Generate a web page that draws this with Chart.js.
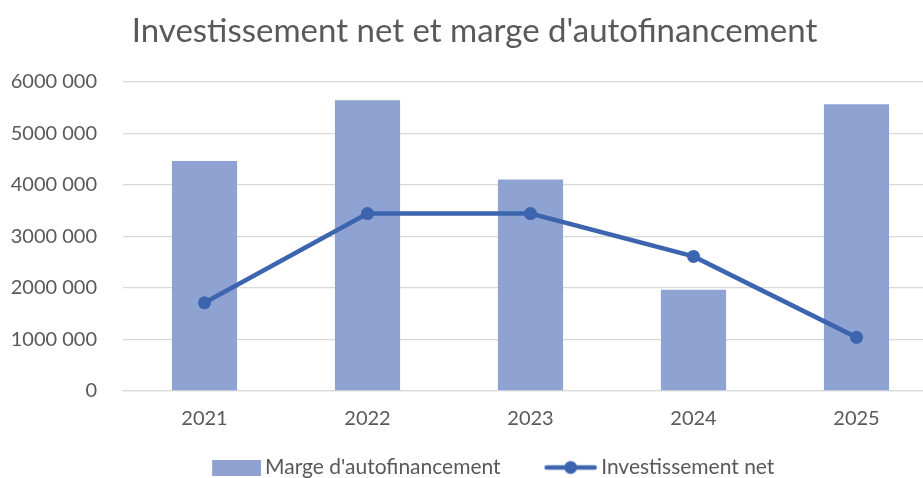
<!DOCTYPE html>
<html>
<head>
<meta charset="utf-8">
<script src="https://cdn.jsdelivr.net/npm/chart.js@4.4.1/dist/chart.umd.min.js"></script>
<style>
  html, body { margin: 0; padding: 0; background: #fff; overflow: hidden; }
  #wrap { width: 923px; height: 478px; overflow: hidden; position: relative; }
  #box { width: 960px; height: 492px; position: absolute; left: 0; top: 0; }
</style>
</head>
<body>
<div id="wrap"><div id="box"><canvas id="chart"></canvas></div></div>
<script>
const years = ["2021", "2022", "2023", "2024", "2025"];
const margeAutofinancement = [4460000, 5640000, 4100000, 1965000, 5560000];
const investissementNet = [1710000, 3440000, 3440000, 2610000, 1040000];
const yTicks = [0, 1000000, 2000000, 3000000, 4000000, 5000000, 6000000];

const barColor = "#8fa3d3";
const lineColor = "#3d64ae";
const textColor = "#595959";

// legend swatches drawn as little canvases (wider than the box so they sit close to the text)
function makeSwatch(w, h, draw) {
  const c = document.createElement("canvas");
  c.width = w;
  c.height = h;
  draw(c.getContext("2d"));
  return c;
}
const barSwatch = makeSwatch(93, 16, (ctx) => {
  ctx.fillStyle = barColor;
  ctx.fillRect(44, 0, 49, 16);
});
const lineSwatch = makeSwatch(93, 16, (ctx) => {
  ctx.strokeStyle = lineColor;
  ctx.lineWidth = 4.5;
  ctx.lineCap = "round";
  ctx.beginPath();
  ctx.moveTo(42.5, 8);
  ctx.lineTo(90.5, 8);
  ctx.stroke();
  ctx.fillStyle = lineColor;
  ctx.beginPath();
  ctx.arc(66.5, 8, 6.5, 0, Math.PI * 2);
  ctx.fill();
});

function formatTick(v) {
  if (v === 0) return "0";
  const head = Math.floor(v / 1000);
  const tail = String(v % 1000).padStart(3, "0");
  return head + " " + tail;
}

new Chart(document.getElementById("chart"), {
  data: {
    labels: years,
    datasets: [
      {
        type: "bar",
        label: "Marge d'autofinancement",
        data: margeAutofinancement,
        backgroundColor: barColor,
        categoryPercentage: 1,
        barPercentage: 0.4,
        order: 2,
      },
      {
        type: "line",
        label: "Investissement net",
        data: investissementNet,
        borderColor: lineColor,
        backgroundColor: lineColor,
        borderWidth: 4.5,
        pointRadius: 6.5,
        pointBorderWidth: 0,
        pointBackgroundColor: lineColor,
        tension: 0,
        order: 1,
      },
    ],
  },
  options: {
    responsive: true,
    maintainAspectRatio: false,
    animation: false,
    layout: { padding: { left: 11, right: 22, top: 8, bottom: 4 } },
    plugins: {
      tooltip: { enabled: false },
      title: {
        display: true,
        text: "Investissement net et marge d'autofinancement",
        color: textColor,
        font: { family: "Lato", size: 33, weight: "normal" },
        padding: { top: 4, bottom: 30 },
      },
      legend: {
        position: "bottom",
        labels: {
          color: textColor,
          font: { family: "Lato", size: 21 },
          usePointStyle: true,
          pointStyleWidth: 80,
          padding: 10,
          generateLabels: () => [
            { text: "Marge d'autofinancement", pointStyle: barSwatch, fillStyle: barColor, strokeStyle: barColor, lineWidth: 0, hidden: false, datasetIndex: 0, fontColor: textColor },
            { text: "Investissement net", pointStyle: lineSwatch, fillStyle: lineColor, strokeStyle: lineColor, lineWidth: 0, hidden: false, datasetIndex: 1, fontColor: textColor },
          ],
        },
      },
    },
    scales: {
      x: {
        grid: { display: false, drawTicks: false },
        border: { display: true, color: "#d9d9d9", width: 1.3 },
        ticks: { color: textColor, font: { family: "Lato", size: 20 }, padding: 16 },
      },
      y: {
        min: 0,
        max: 6000000,
        afterBuildTicks: (axis) => {
          axis.ticks = yTicks.map((v) => ({ value: v }));
        },
        afterFit: (axis) => {
          axis.width = 112;
        },
        grid: { color: "#d9d9d9", lineWidth: 1.3, drawTicks: false },
        border: { display: false },
        ticks: { color: textColor, font: { family: "Lato", size: 20 }, padding: 26, callback: (v) => formatTick(v) },
      },
    },
  },
});
</script>
</body>
</html>
